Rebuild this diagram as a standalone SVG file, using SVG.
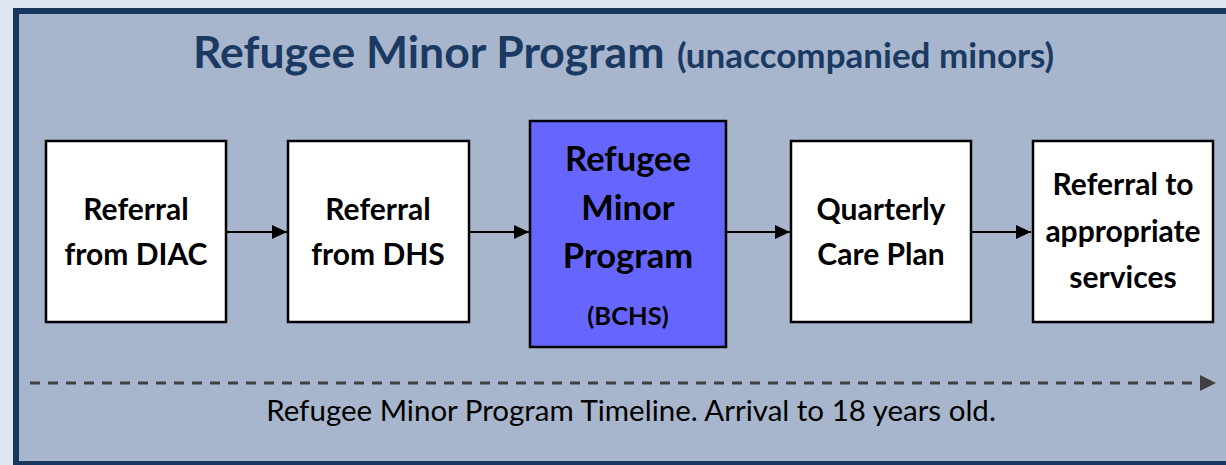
<svg xmlns="http://www.w3.org/2000/svg" width="1226" height="465" viewBox="0 0 1226 465">
<defs>
<style>
.box{stroke:#000;stroke-width:2.5}
.wt{fill:#fff}
.lbl{font-family:Lato,"Open Sans","Liberation Sans",sans-serif;font-weight:bold;font-size:30px;fill:#000;text-anchor:middle}
.big{font-size:34.5px}
.sm{font-size:25.5px}
.conn{stroke:#000;stroke-width:2;fill:none}
</style>
<marker id="ah" markerWidth="15" markerHeight="14" refX="15" refY="7" orient="auto" markerUnits="userSpaceOnUse" viewBox="0 0 15 14">
<path d="M0,0 L15,7 L0,14 z" fill="#000"/>
</marker>
<marker id="ah2" markerWidth="16" markerHeight="16" refX="16" refY="8" orient="auto" markerUnits="userSpaceOnUse" viewBox="0 0 16 16">
<path d="M0,0 L16,8 L0,16 z" fill="#404040"/>
</marker>
</defs>
<rect x="0" y="0" width="1226" height="465" fill="#dde6f0"/>
<rect x="16" y="11" width="1220" height="453" fill="#a7b6cc" stroke="#17375e" stroke-width="6"/>
<text y="68" font-family="Lato,'Open Sans','Liberation Sans',sans-serif" font-weight="bold" fill="#1b3a63"><tspan x="193" font-size="44.5">Refugee Minor Program</tspan><tspan x="677" font-size="35">(unaccompanied minors)</tspan></text>
<g id="connectors">
<line class="conn" x1="227" y1="232" x2="287" y2="232" marker-end="url(#ah)"/>
<line class="conn" x1="469" y1="232" x2="529" y2="232" marker-end="url(#ah)"/>
<line class="conn" x1="727" y1="232" x2="790" y2="232" marker-end="url(#ah)"/>
<line class="conn" x1="971" y1="232" x2="1031" y2="232" marker-end="url(#ah)"/>
</g>
<g id="n1">
<rect class="box wt" x="46" y="141" width="180" height="181"/>
<text class="lbl" x="136" y="220">Referral</text>
<text class="lbl" x="136" y="265">from DIAC</text>
</g>
<g id="n2">
<rect class="box wt" x="288" y="141" width="181" height="181"/>
<text class="lbl" x="378" y="220">Referral</text>
<text class="lbl" x="378" y="265">from DHS</text>
</g>
<g id="n3">
<rect class="box" x="530" y="121" width="196" height="226" fill="#6666ff"/>
<text class="lbl big" x="628" y="171">Refugee</text>
<text class="lbl big" x="628" y="220">Minor</text>
<text class="lbl big" x="628" y="268">Program</text>
<text class="lbl sm" x="628" y="325">(BCHS)</text>
</g>
<g id="n4">
<rect class="box wt" x="791" y="141" width="180" height="181"/>
<text class="lbl" x="881" y="220">Quarterly</text>
<text class="lbl" x="881" y="265">Care Plan</text>
</g>
<g id="n5">
<rect class="box wt" x="1033" y="141" width="180" height="181"/>
<text class="lbl" x="1123" y="195">Referral to</text>
<text class="lbl" x="1123" y="242">appropriate</text>
<text class="lbl" x="1123" y="288">services</text>
</g>
<g id="timeline">
<line x1="30" y1="383" x2="1216" y2="383" stroke="#404040" stroke-width="3" stroke-dasharray="10,8" marker-end="url(#ah2)"/>
<text x="631" y="421" font-family="Lato,'Open Sans','Liberation Sans',sans-serif" font-size="29.5" fill="#000" text-anchor="middle">Refugee Minor Program Timeline. Arrival to 18 years old.</text>
</g>
</svg>
